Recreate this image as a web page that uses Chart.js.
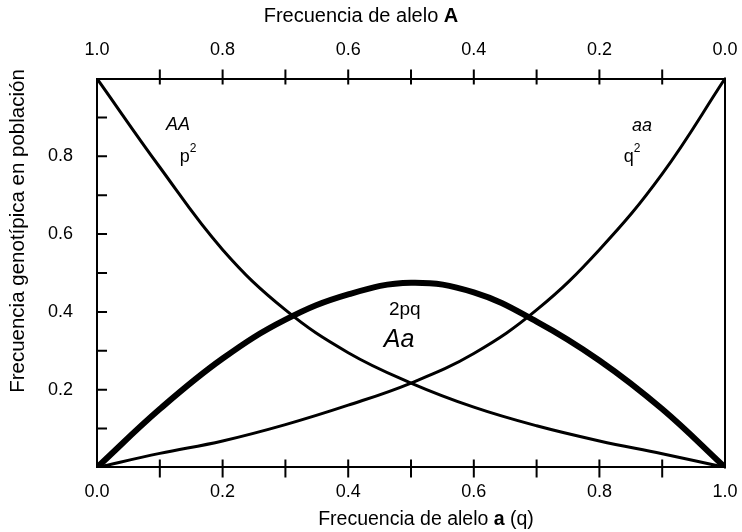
<!DOCTYPE html>
<html>
<head>
<meta charset="utf-8">
<script src="https://cdn.jsdelivr.net/npm/chart.js@4.4.1/dist/chart.umd.min.js"></script>
<style>
  html, body { margin: 0; padding: 0; background: #fff; }
  #wrap { width: 742px; height: 532px; }
</style>
</head>
<body>
<div id="wrap"><canvas id="hwChart" width="742" height="532"></canvas></div>
<script>
// Frecuencia de alelo a (q)
const qValues = [0.0, 0.1, 0.2, 0.3, 0.4, 0.5, 0.6, 0.7, 0.8, 0.9, 1.0];

// AA (p^2), Aa (2pq), aa (q^2)
const valuesAA = [1.0, 0.772, 0.56, 0.405, 0.295, 0.217, 0.155, 0.107, 0.068, 0.035, 0.0];
const valuesAa = [0.0, 0.15, 0.28, 0.38, 0.445, 0.475, 0.45, 0.375, 0.275, 0.15, 0.0];
const valuesaa = [0.0, 0.036, 0.068, 0.11, 0.16, 0.217, 0.293, 0.405, 0.56, 0.755, 1.0];

// Etiquetas de los ejes
const yTickLabels = [0.2, 0.4, 0.6, 0.8];
const xTickLabels = [0.0, 0.2, 0.4, 0.6, 0.8, 1.0];
const minorTicks = [0.1, 0.2, 0.3, 0.4, 0.5, 0.6, 0.7, 0.8, 0.9];

// Textos sobre las curvas (q, frecuencia)
const curveLabels = [
    { q: 0.129, y: 0.881, parts: [['AA', 'italic 18px']] },
    { q: 0.145, y: 0.799, parts: [['p', '18px'], ['2', '12px', -8]] },
    { q: 0.868, y: 0.879, parts: [['aa', 'italic 18px']] },
    { q: 0.852, y: 0.799, parts: [['q', '18px'], ['2', '12px', -8]] },
    { q: 0.49, y: 0.405, parts: [['2pq', '19px']] },
    { q: 0.481, y: 0.327, parts: [['Aa', 'italic 25px']] }
];

const FONT = '"Liberation Sans", Arial, sans-serif';

const toPoints = (values) => qValues.map((q, i) => ({ x: q, y: values[i] }));

// Draw a line of text made of several fonts, centred on x
const drawParts = (ctx, parts, cx, cy) => {
    let total = 0;
    for (const p of parts) {
        ctx.font = p[1] + ' ' + FONT;
        total += ctx.measureText(p[0]).width;
    }
    let x = cx - total / 2;
    for (const p of parts) {
        ctx.font = p[1] + ' ' + FONT;
        ctx.fillText(p[0], x, cy + (p[2] || 0));
        x += ctx.measureText(p[0]).width;
    }
};

// Ticks, right border, axis titles and curve labels
const decorPlugin = {
    id: 'decor',
    afterDraw(chart) {
        const ctx = chart.ctx;
        const area = chart.chartArea;
        const xs = chart.scales.x;
        const xt = chart.scales.xTop;
        const ys = chart.scales.y;

        ctx.save();
        ctx.strokeStyle = '#000';
        ctx.lineWidth = 2;
        ctx.beginPath();
        ctx.moveTo(area.right, area.top - 1);
        ctx.lineTo(area.right, area.bottom + 1);
        for (const v of minorTicks) {
            let px = xs.getPixelForValue(v);
            ctx.moveTo(px, area.bottom - 8);
            ctx.lineTo(px, area.bottom + 10);
            px = xt.getPixelForValue(1 - v);
            ctx.moveTo(px, area.top - 9);
            ctx.lineTo(px, area.top + 6);
            let py = ys.getPixelForValue(v);
            ctx.moveTo(area.left, py);
            ctx.lineTo(area.left + 10, py);
        }
        ctx.stroke();

        ctx.fillStyle = '#000';
        ctx.textBaseline = 'middle';
        ctx.textAlign = 'left';
        for (const lab of curveLabels) {
            drawParts(ctx, lab.parts, xs.getPixelForValue(lab.q), ys.getPixelForValue(lab.y));
        }

        drawParts(ctx, [['Frecuencia de alelo ', '20px'], ['A', 'bold 20px']], 361, 16);
        drawParts(ctx, [['Frecuencia de alelo ', '19.5px'], ['a', 'bold 19.5px'], [' (q)', '19.5px']], 426, 520);

        ctx.translate(18, 231);
        ctx.rotate(-Math.PI / 2);
        drawParts(ctx, [['Frecuencia genotípica en población', '20.5px']], 0, 0);
        ctx.restore();
    }
};

const lineSet = (label, values, width) => ({
    label: label,
    data: toPoints(values),
    borderColor: '#000',
    borderWidth: width,
    pointRadius: 0,
    tension: 0.4,
    fill: false
});

// Keep the x labels from pushing the plot area inwards
const noSidePadding = (scale) => {
    scale.paddingLeft = 0;
    scale.paddingRight = 0;
};

const ctx = document.getElementById('hwChart').getContext('2d');

const tickFont = { family: FONT, size: 18 };

new Chart(ctx, {
    type: 'line',
    data: {
        datasets: [
            lineSet('AA', valuesAA, 3),
            lineSet('aa', valuesaa, 3),
            lineSet('Aa', valuesAa, 6)
        ]
    },
    options: {
        responsive: false,
        animation: false,
        events: [],
        layout: { padding: { left: 24, right: 17, top: 21, bottom: 15 } },
        plugins: {
            legend: { display: false },
            tooltip: { enabled: false }
        },
        scales: {
            x: {
                type: 'linear',
                position: 'bottom',
                min: 0,
                max: 1,
                afterFit: noSidePadding,
                grid: { display: false, drawTicks: false },
                border: { display: true, color: '#000', width: 2 },
                ticks: {
                    stepSize: 0.2,
                    padding: 14,
                    color: '#000',
                    font: tickFont,
                    maxRotation: 0,
                    callback: (v) => xTickLabels.some(t => Math.abs(t - v) < 1e-6) ? v.toFixed(1) : ''
                }
            },
            xTop: {
                type: 'linear',
                position: 'top',
                reverse: true,
                min: 0,
                max: 1,
                afterFit: noSidePadding,
                grid: { display: false, drawTicks: false },
                border: { display: true, color: '#000', width: 2 },
                ticks: {
                    stepSize: 0.2,
                    padding: 18,
                    color: '#000',
                    font: tickFont,
                    maxRotation: 0,
                    callback: (v) => xTickLabels.some(t => Math.abs(t - v) < 1e-6) ? v.toFixed(1) : ''
                }
            },
            y: {
                type: 'linear',
                position: 'left',
                min: 0,
                max: 1,
                grid: { display: false, drawTicks: false },
                border: { display: true, color: '#000', width: 2 },
                ticks: {
                    stepSize: 0.2,
                    padding: 24,
                    color: '#000',
                    font: tickFont,
                    callback: (v) => yTickLabels.some(t => Math.abs(t - v) < 1e-6) ? v.toFixed(1) : ''
                }
            }
        }
    },
    plugins: [decorPlugin]
});
</script>
</body>
</html>
